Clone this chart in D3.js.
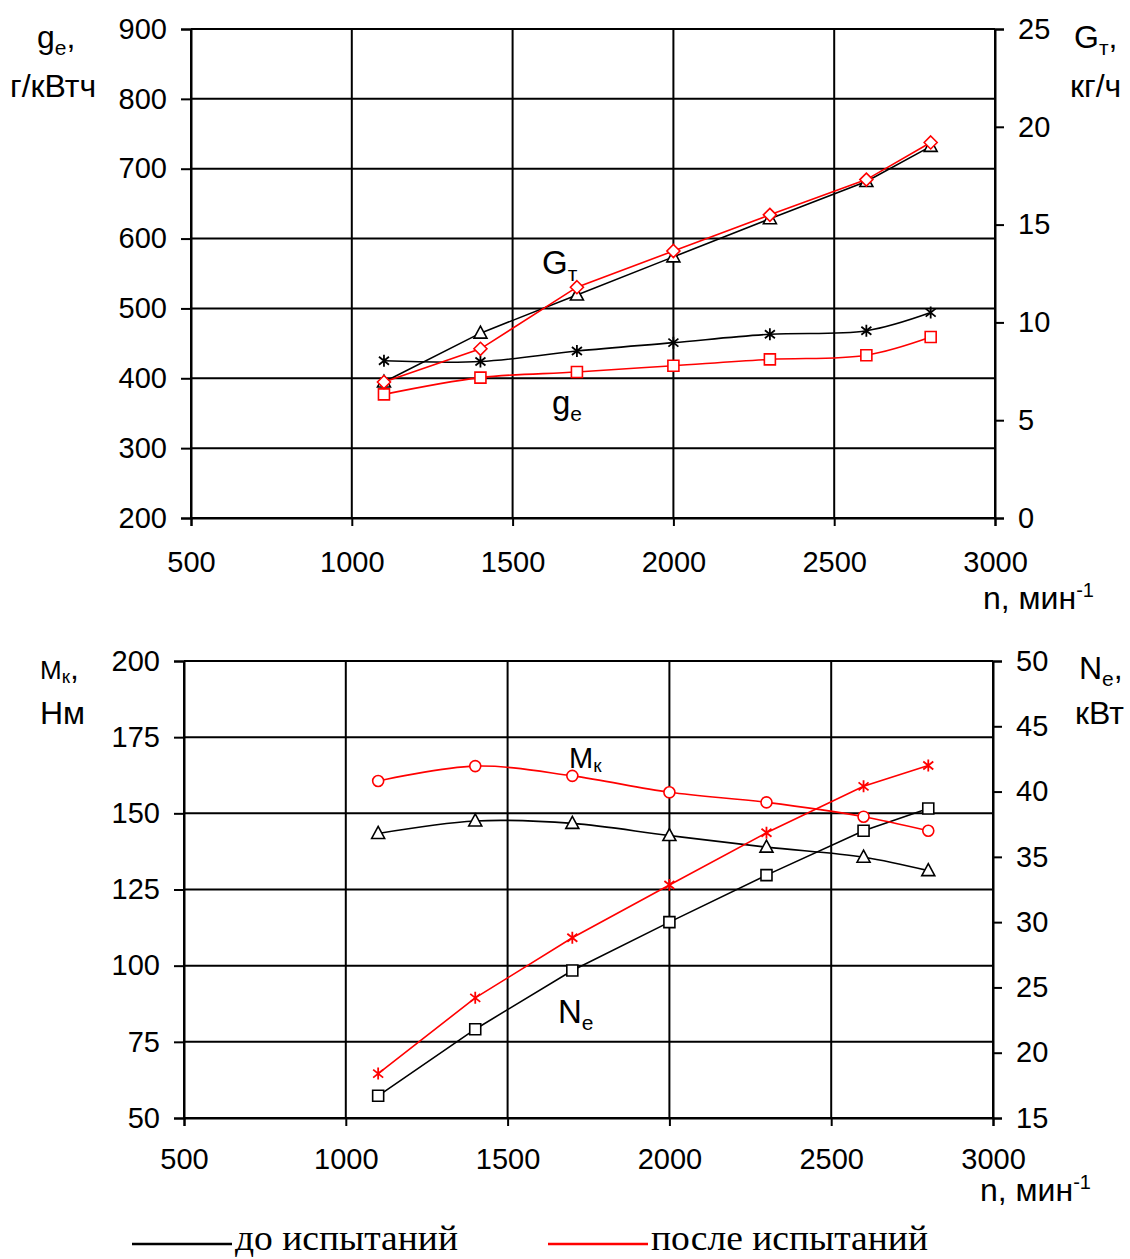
<!DOCTYPE html>
<html>
<head>
<meta charset="utf-8">
<script src="https://cdn.jsdelivr.net/npm/d3@7"></script>
<style>
    body { margin: 0; background: #fff; }
    svg { display: block; }
    text { font-family: "Liberation Sans", Arial, sans-serif; fill: #000; }
</style>
</head>
<body>
<div id="chart"></div>
<script>
// engine speed, min^-1
const rpm = [1100, 1400, 1700, 2000, 2300, 2600, 2800];

// top panel: fuel consumption
const gtBefore = [6.95, 9.45, 11.4, 13.35, 15.3, 17.2, 19.0];   // kg/h, right axis
const gtAfter = [6.95, 8.65, 11.8, 13.65, 15.5, 17.3, 19.2];
const geBefore = [425, 424, 439, 451, 463, 468, 494];          // g/kWh, left axis
const geAfter = [377, 401, 409, 418, 427, 433, 459];

// bottom panel: torque and power
const mkBefore = [143.4, 147.5, 146.7, 142.7, 138.9, 135.6, 131.2]; // Nm, left axis
const mkAfter = [160.6, 165.5, 162.3, 156.9, 153.6, 148.9, 144.3];
const neBefore = [16.7, 21.8, 26.3, 30.0, 33.6, 37.0, 38.7];   // kW, right axis
const neAfter = [18.4, 24.2, 28.8, 32.85, 36.85, 40.4, 42.0];

const xTicks = [500, 1000, 1500, 2000, 2500, 3000];
const geTicks = [200, 300, 400, 500, 600, 700, 800, 900];
const gtTicks = [0, 5, 10, 15, 20, 25];
const mkTicks = [50, 75, 100, 125, 150, 175, 200];
const neTicks = [15, 20, 25, 30, 35, 40, 45, 50];

const RED = "#ff0000";
const width = 1130, height = 1259;

const svg = d3.select("#chart").append("svg")
    .attr("width", width)
    .attr("height", height);

// marker shapes drawn around (0,0)
const markerPaths = {
    triangle: "M0,-7L6.5,5L-6.5,5Z",
    diamond: "M0,-6.5L6.5,0L0,6.5L-6.5,0Z",
    square: "M-5.5,-5.5H5.5V5.5H-5.5Z",
    star: "M0,-6V6M-5,-4L5,4M-5,4L5,-4"
};

function drawSeries(g, xs, ys, values, color, marker, smooth) {
    const pts = rpm.map((d, i) => [xs(d), ys(values[i])]);
    const line = d3.line().curve(smooth ? d3.curveCatmullRom.alpha(0.5) : d3.curveLinear);
    g.append("path")
        .attr("d", line(pts))
        .attr("fill", "none")
        .attr("stroke", color)
        .attr("stroke-width", 1.6);
    g.selectAll(null)
        .data(pts)
        .enter()
        .append(marker === "circle" ? "circle" : "path")
        .each(function (p) {
            const el = d3.select(this);
            if (marker === "circle") {
                el.attr("cx", p[0]).attr("cy", p[1]).attr("r", 5.5);
            } else {
                el.attr("transform", `translate(${p[0]},${p[1]})`).attr("d", markerPaths[marker]);
            }
            el.attr("fill", marker === "star" ? "none" : "#fff")
                .attr("stroke", color)
                .attr("stroke-width", marker === "star" ? 1.8 : 1.6);
        });
}

function drawPanel(cfg) {
    const g = svg.append("g");
    const x = d3.scaleLinear().domain([500, 3000]).range([cfg.left, cfg.right]);
    const yL = d3.scaleLinear().domain(cfg.leftDomain).range([cfg.bottom, cfg.top]);
    const yR = d3.scaleLinear().domain(cfg.rightDomain).range([cfg.bottom, cfg.top]);

    // grid
    g.append("g").selectAll("line").data(cfg.leftTicks).enter().append("line")
        .attr("x1", cfg.left).attr("x2", cfg.right)
        .attr("y1", d => yL(d)).attr("y2", d => yL(d))
        .attr("stroke", "#000").attr("stroke-width", 2);
    g.append("g").selectAll("line").data(xTicks).enter().append("line")
        .attr("x1", d => x(d)).attr("x2", d => x(d))
        .attr("y1", cfg.top).attr("y2", cfg.bottom)
        .attr("stroke", "#000").attr("stroke-width", 2);

    // axes
    const fontSize = "29px";
    const axL = g.append("g").attr("transform", `translate(${cfg.left},0)`)
        .call(d3.axisLeft(yL).tickValues(cfg.leftTicks).tickSize(10).tickPadding(14).tickFormat(d3.format("d")));
    const axR = g.append("g").attr("transform", `translate(${cfg.right},0)`)
        .call(d3.axisRight(yR).tickValues(cfg.rightTicks).tickSize(9).tickPadding(14).tickFormat(d3.format("d")));
    const axB = g.append("g").attr("transform", `translate(0,${cfg.bottom})`)
        .call(d3.axisBottom(x).tickValues(xTicks).tickSize(8).tickPadding(cfg.xPad).tickFormat(d3.format("d")));
    [axL, axR, axB].forEach(a => {
        a.select(".domain").attr("stroke-width", 2).attr("stroke", "#000");
        a.selectAll(".tick line").attr("stroke-width", 2).attr("stroke", "#000");
        a.selectAll("text").style("font-size", fontSize).style("font-family", "Liberation Sans, Arial, sans-serif");
    });

    // series
    cfg.series.forEach(s => drawSeries(g, x, s.axis === "left" ? yL : yR, s.values, s.color, s.marker, s.smooth));

    // axis titles
    const titles = g.append("g").style("font-size", "32px");
    cfg.labels.forEach(l => {
        const t = titles.append("text").attr("x", l.x).attr("y", l.y).attr("text-anchor", l.anchor || "start");
        t.append("tspan").text(l.main).style("font-size", l.mainSize || "32px");
        if (l.sub) t.append("tspan").text(l.sub).attr("dy", l.subDy || 7).style("font-size", l.subSize || "21px");
        if (l.after) t.append("tspan").text(l.after).attr("dy", l.sub ? -(l.subDy || 7) : 0);
        if (l.sup) t.append("tspan").text(l.sup).attr("dy", -12).style("font-size", "20px");
    });
}

drawPanel({
    left: 191, right: 995, top: 29, bottom: 518, xPad: 25,
    leftDomain: [200, 900], rightDomain: [0, 25],
    leftTicks: geTicks, rightTicks: gtTicks,
    series: [
        { values: gtBefore, axis: "right", color: "#000", marker: "triangle", smooth: false },
        { values: geBefore, axis: "left", color: "#000", marker: "star", smooth: true },
        { values: geAfter, axis: "left", color: RED, marker: "square", smooth: true },
        { values: gtAfter, axis: "right", color: RED, marker: "diamond", smooth: false }
    ],
    labels: [
        { x: 37, y: 48, main: "g", sub: "e", after: "," },
        { x: 10, y: 97, main: "г/кВтч" },
        { x: 1074, y: 48, main: "G", sub: "т", after: "," },
        { x: 1070, y: 97, main: "кг/ч" },
        { x: 983, y: 609, main: "n,  мин", sup: "-1" },
        { x: 542, y: 274, main: "G", sub: "т", mainSize: "33px" },
        { x: 552, y: 414, main: "g", sub: "e", mainSize: "33px" }
    ]
});

drawPanel({
    left: 184, right: 993, top: 661, bottom: 1118, xPad: 22,
    leftDomain: [50, 200], rightDomain: [15, 50],
    leftTicks: mkTicks, rightTicks: neTicks,
    series: [
        { values: mkBefore, axis: "left", color: "#000", marker: "triangle", smooth: true },
        { values: neBefore, axis: "right", color: "#000", marker: "square", smooth: false },
        { values: mkAfter, axis: "left", color: RED, marker: "circle", smooth: true },
        { values: neAfter, axis: "right", color: RED, marker: "star", smooth: false }
    ],
    labels: [
        { x: 40, y: 679, main: "M", sub: "к", after: ",", mainSize: "26px", subSize: "19px", subDy: 4 },
        { x: 40, y: 724, main: "Нм" },
        { x: 1079, y: 679, main: "N", sub: "e", after: "," },
        { x: 1075, y: 724, main: "кВт" },
        { x: 980, y: 1201, main: "n,  мин", sup: "-1" },
        { x: 569, y: 768, main: "M", sub: "к", mainSize: "29px", subSize: "19px", subDy: 4 },
        { x: 558, y: 1023, main: "N", sub: "e", mainSize: "33px" }
    ]
});

// legend
const legendItems = [
    { label: "до испытаний", color: "#000", x: 132, w: 223 },
    { label: "после испытаний", color: RED, x: 548, w: 277 }
];
const legend = svg.append("g");
legendItems.forEach(d => {
    legend.append("line")
        .attr("x1", d.x).attr("x2", d.x + 100)
        .attr("y1", 1244).attr("y2", 1244)
        .attr("stroke", d.color).attr("stroke-width", 2.5);
    legend.append("text")
        .attr("x", d.x + 103).attr("y", 1250)
        .style("font-family", "Liberation Serif, Times New Roman, serif")
        .style("font-size", "35px")
        .attr("textLength", d.w)
        .attr("lengthAdjust", "spacingAndGlyphs")
        .text(d.label);
});
</script>
</body>
</html>
